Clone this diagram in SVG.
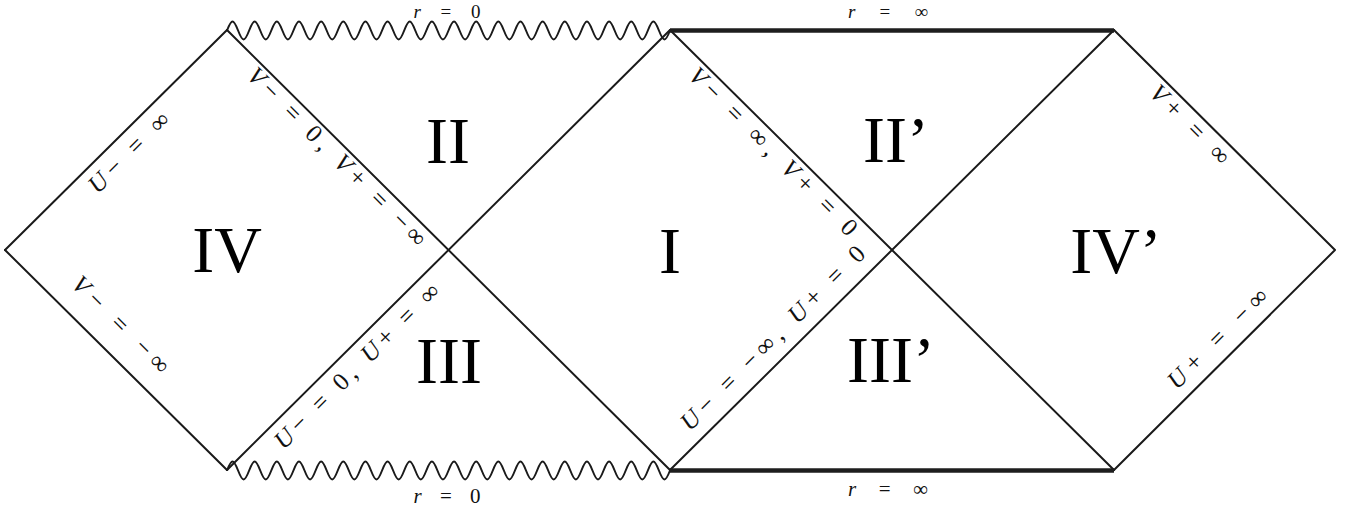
<svg xmlns="http://www.w3.org/2000/svg" xmlns:xlink="http://www.w3.org/1999/xlink" width="1366" height="510" viewBox="0 0 1366 510">
  <style>
    .thin { fill: none; stroke: #1a1a1a; stroke-width: 2; stroke-linecap: round; stroke-linejoin: round; }
    .thick { fill: none; stroke: #1e1e1e; stroke-width: 4.5; }
    .wave { fill: none; stroke: #1a1a1a; stroke-width: 2; }
    .region { font-family: "Liberation Serif", "Times New Roman", serif; font-size: 66px; fill: #000; text-anchor: middle; }
    .lbl { font-family: "Liberation Serif", "Times New Roman", serif; font-size: 25px; fill: #111; text-anchor: middle; }
    .rl { font-family: "Liberation Serif", "Times New Roman", serif; font-size: 21px; fill: #111; text-anchor: middle; }
    .rt { font-family: "Liberation Serif", "Times New Roman", serif; font-size: 19px; fill: #111; text-anchor: middle; }
    .it { font-style: italic; }
  </style>
  <defs>
    <path id="wavy" class="wave" d="M227,0 c4.696,-12 6.379,-12 11.075,0 s6.379,12 11.075,0 s6.379,-12 11.075,0 s6.379,12 11.075,0 s6.379,-12 11.075,0 s6.379,12 11.075,0 s6.379,-12 11.075,0 s6.379,12 11.075,0 s6.379,-12 11.075,0 s6.379,12 11.075,0 s6.379,-12 11.075,0 s6.379,12 11.075,0 s6.379,-12 11.075,0 s6.379,12 11.075,0 s6.379,-12 11.075,0 s6.379,12 11.075,0 s6.379,-12 11.075,0 s6.379,12 11.075,0 s6.379,-12 11.075,0 s6.379,12 11.075,0 s6.379,-12 11.075,0 s6.379,12 11.075,0 s6.379,-12 11.075,0 s6.379,12 11.075,0 s6.379,-12 11.075,0 s6.379,12 11.075,0 s6.379,-12 11.075,0 s6.379,12 11.075,0 s6.379,-12 11.075,0 s6.379,12 11.075,0 s6.379,-12 11.075,0 s6.379,12 11.075,0 s6.379,-12 11.075,0 s6.379,12 11.075,0 s6.379,-12 11.075,0 s6.379,12 11.075,0 s6.379,-12 11.075,0 s6.379,12 11.075,0 s6.379,-12 11.075,0 s6.379,12 11.075,0"/>
  </defs>
  <rect x="0" y="0" width="1366" height="510" fill="#fff"/>

  <g id="connectors">
    <path class="thin" d="M5,250 L227,30"/>
    <path class="thin" d="M5,250 L227,470"/>
    <path class="thin" d="M227,30 L670,470"/>
    <path class="thin" d="M227,470 L670,30"/>
    <path class="thin" d="M670,30 L1114,470"/>
    <path class="thin" d="M670,470 L1114,30"/>
    <path class="thin" d="M1114,30 L1335,250 L1114,470"/>
    <use xlink:href="#wavy" href="#wavy" transform="translate(0,30.5)"/>
    <use xlink:href="#wavy" href="#wavy" transform="translate(0,470.5)"/>
    <path class="thick" d="M670,30.5 L1114,30.5"/>
    <path class="thick" d="M670,470.5 L1114,470.5"/>
  </g>

  <g id="boundary-labels">
    <text class="rt" x="447" y="18" textLength="67" lengthAdjust="spacing"><tspan class="it">r</tspan> = 0</text>
    <text class="rt" x="888" y="18" textLength="80" lengthAdjust="spacing"><tspan class="it">r</tspan> = ∞</text>
    <text class="rl" x="447" y="503" textLength="67" lengthAdjust="spacing"><tspan class="it">r</tspan> = 0</text>
    <text class="rl" x="888" y="496" textLength="80" lengthAdjust="spacing"><tspan class="it">r</tspan> = ∞</text>

    <text class="lbl" transform="translate(134.6,158.1) rotate(-45)" textLength="104" lengthAdjust="spacing"><tspan class="it">U</tspan>− = ∞</text>
    <text class="lbl" transform="translate(331.2,162.5) rotate(45)" textLength="242" lengthAdjust="spacing"><tspan class="it">V</tspan>− = 0, <tspan class="it">V</tspan>+ = −∞</text>
    <text class="lbl" transform="translate(115.2,330.5) rotate(45)" textLength="127" lengthAdjust="spacing"><tspan class="it">V</tspan>− = −∞</text>
    <text class="lbl" transform="translate(362.5,371.7) rotate(-45)" textLength="223" lengthAdjust="spacing"><tspan class="it">U</tspan>− = 0, <tspan class="it">U</tspan>+ = ∞</text>
    <text class="lbl" transform="translate(767.5,157.3) rotate(45)" textLength="227" lengthAdjust="spacing"><tspan class="it">V</tspan>− = ∞, <tspan class="it">V</tspan>+ = 0</text>
    <text class="lbl" transform="translate(778.5,343.7) rotate(-45)" textLength="250" lengthAdjust="spacing"><tspan class="it">U</tspan>− = −∞, <tspan class="it">U</tspan>+ = 0</text>
    <text class="lbl" transform="translate(1184.3,130.3) rotate(45)" textLength="102" lengthAdjust="spacing"><tspan class="it">V</tspan>+ = ∞</text>
    <text class="lbl" transform="translate(1223.2,344.2) rotate(-45)" textLength="131" lengthAdjust="spacing"><tspan class="it">U</tspan>+ = −∞</text>
  </g>

  <g id="region-IV"><text class="region" x="227" y="272">IV</text></g>
  <g id="region-II"><text class="region" x="448" y="163">II</text></g>
  <g id="region-III"><text class="region" x="449" y="383">III</text></g>
  <g id="region-I"><text class="region" x="670" y="273">I</text></g>
  <g id="region-IIp"><text class="region" x="896" y="162">II’</text></g>
  <g id="region-IIIp"><text class="region" x="891" y="382">III’</text></g>
  <g id="region-IVp"><text class="region" x="1116" y="273">IV’</text></g>
</svg>
